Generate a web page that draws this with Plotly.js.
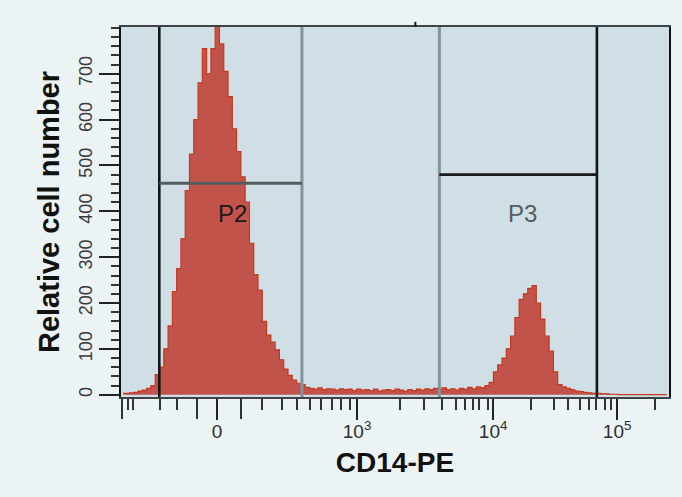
<!DOCTYPE html>
<html>
<head>
<meta charset="utf-8">
<script src="https://cdn.plot.ly/plotly-3.0.1.min.js"></script>
<style>
  html, body { margin: 0; padding: 0; background: #ecf3f5; }
  #chart { width: 682px; height: 497px; }
</style>
</head>
<body>
<div id="chart"></div>
<script>
// ---- Data (display channels 0..1024 of a biexponential CD14-PE axis) ----
const binStart = 0;
const binWidth = 8;
// Relative cell number per display bin
const cellCounts = [
  3, 3, 4, 5, 8, 10, 14, 20, 44, 60,
  100, 150, 225, 275, 340, 445, 525, 600, 680, 755,
  700, 755, 815, 765, 705, 650, 580, 530, 475, 420,
  330, 262, 228, 160, 130, 115, 98, 76, 56, 42,
  32, 25, 22, 16, 14, 12, 15, 11, 13, 12,
  10, 13, 11, 12, 9, 12, 10, 11, 9, 12,
  8, 10, 11, 9, 12, 10, 8, 11, 9, 12,
  10, 13, 11, 14, 12, 15, 11, 13, 10, 14,
  12, 16, 13, 17, 15, 20, 27, 50, 65, 80,
  100, 128, 168, 208, 220, 232, 238, 200, 165, 128,
  95, 50, 22, 17, 14, 11, 8, 7, 5, 4,
  3, 3, 2, 2, 1, 1, 0, 0, 0, 0,
  0, 0, 0, 0, 0, 0, 0, 0
];

// X axis ticks (display channel positions of the logicle scale)
const xLabelTickPos  = [179.4, 441.1, 695.3, 927.0];
const xLabelTickText = ['0', '10<sup>3</sup>', '10<sup>4</sup>', '10<sup>5</sup>'];
const xLongTickPos   = [1.9, 142.0, 224.8];
const xMinorTickPos  = [12.3, 23.0, 72.1, 104.7, 264.1, 300.9, 329.5, 353.8, 373.8, 394.4,
                        411.7, 427.3, 520.7, 566.9, 600.0, 626.1, 642.2, 657.2, 669.7, 685.2,
                        766.3, 808.5, 835.4, 858.4, 873.9, 888.3, 903.9, 915.8, 997.3];
// Y axis ticks
const yTickVals = [0, 100, 200, 300, 400, 500, 600, 700];
const yTickText = ['0', '100', '200', '300', '400', '500', '600', '700'];

// Gates (display channel, count)
const gateP2 = { name: 'P2', x0: 71.6, x1: 338.1, y: 461 };
const gateP3 = { name: 'P3', x0: 594.9, x1: 889.3, y: 480 };
const gateLabelPos = { P2: [207.5, 395], P3: [749.5, 395] };
const topMarkX = 550;

// ---- Build ----
const binCenters = cellCounts.map((_, i) => binStart + (i + 0.5) * binWidth);

const trace = {
  type: 'scatter',
  mode: 'lines',
  x: binCenters,
  y: cellCounts,
  line: { shape: 'hvh', color: '#c4391f', width: 1.2 },
  fill: 'tozeroy',
  fillcolor: '#c2534a',
  hoverinfo: 'x+y'
};
// invisible helper trace so the long-tick overlay axis is drawn
const helper = {
  type: 'scatter', mode: 'markers', x: [binCenters[0]], y: [0],
  xaxis: 'x2', yaxis: 'y', marker: { opacity: 0 }, hoverinfo: 'skip'
};

const blackGate = { color: '#141414', width: 2.6 };
const grayGate = { color: '#85939a', width: 3 };

const shapes = [
  { type: 'line', layer: 'above', xref: 'x', yref: 'paper', x0: gateP2.x0, x1: gateP2.x0, y0: 0, y1: 1, line: blackGate },
  { type: 'line', layer: 'above', xref: 'x', yref: 'paper', x0: gateP2.x1, x1: gateP2.x1, y0: 0, y1: 1, line: grayGate },
  { type: 'line', layer: 'above', xref: 'x', yref: 'paper', x0: gateP3.x0, x1: gateP3.x0, y0: 0, y1: 1, line: grayGate },
  { type: 'line', layer: 'above', xref: 'x', yref: 'paper', x0: gateP3.x1, x1: gateP3.x1, y0: 0, y1: 1, line: blackGate },
  { type: 'line', layer: 'above', xref: 'x', yref: 'y', x0: gateP2.x0, x1: gateP2.x1, y0: gateP2.y, y1: gateP2.y, line: { color: '#535c60', width: 3 } },
  { type: 'line', layer: 'above', xref: 'x', yref: 'y', x0: gateP3.x0, x1: gateP3.x1, y0: gateP3.y, y1: gateP3.y, line: { color: '#1a1a1a', width: 2.6 } },
  { type: 'line', layer: 'above', xref: 'x', yref: 'paper', x0: topMarkX, x1: topMarkX, y0: 1, y1: 1.014, line: { color: '#111', width: 2 } }
];

const annotations = [
  { x: gateLabelPos.P2[0], y: gateLabelPos.P2[1], xref: 'x', yref: 'y', text: gateP2.name, showarrow: false,
    font: { family: 'Liberation Sans, Arial, sans-serif', size: 24, color: '#1a1a1a' } },
  { x: gateLabelPos.P3[0], y: gateLabelPos.P3[1], xref: 'x', yref: 'y', text: gateP3.name, showarrow: false,
    font: { family: 'Liberation Sans, Arial, sans-serif', size: 24, color: '#555b5e' } }
];

const layout = {
  width: 682,
  height: 497,
  margin: { l: 121, r: 13, t: 27, b: 100 },
  paper_bgcolor: '#ecf3f5',
  plot_bgcolor: '#cfdfe5',
  showlegend: false,
  font: { family: 'Liberation Sans, Arial, sans-serif', color: '#333' },
  xaxis: {
    range: [0, 1024],
    showgrid: false,
    zeroline: false,
    showline: true,
    linecolor: '#3d4447',
    linewidth: 2,
    mirror: true,
    ticks: 'outside',
    tickmode: 'array',
    tickvals: xLabelTickPos,
    ticktext: xLabelTickText,
    ticklen: 21,
    tickwidth: 2,
    tickcolor: '#222',
    ticklabelstandoff: -5,
    tickfont: { size: 19, color: '#2e2e2e' },
    minor: {
      tickmode: 'array',
      tickvals: xMinorTickPos,
      ticks: 'outside',
      ticklen: 11,
      tickwidth: 2,
      tickcolor: '#333',
      showgrid: false
    },
    title: { text: 'CD14-PE', font: { size: 28, color: '#111', weight: 'bold' }, standoff: 12 }
  },
  xaxis2: {
    overlaying: 'x',
    anchor: 'y',
    side: 'bottom',
    range: [0, 1024],
    showgrid: false,
    zeroline: false,
    showline: false,
    ticks: 'outside',
    tickmode: 'array',
    tickvals: xLongTickPos,
    ticklen: 21,
    tickwidth: 2,
    tickcolor: '#333',
    showticklabels: false
  },
  yaxis: {
    range: [-5, 802],
    showgrid: false,
    zeroline: false,
    showline: true,
    linecolor: '#111',
    linewidth: 2,
    mirror: true,
    ticks: 'outside',
    tickmode: 'array',
    tickvals: yTickVals,
    ticktext: yTickText,
    ticklen: 20,
    tickwidth: 2,
    tickcolor: '#222',
    tickangle: -90,
    tickfont: { size: 18, color: '#3a3a3a' },
    minor: {
      tickmode: 'linear',
      tick0: 0,
      dtick: 20,
      ticks: 'outside',
      ticklen: 8,
      tickwidth: 2,
      tickcolor: '#333',
      showgrid: false
    },
    title: { text: 'Relative cell number', font: { size: 29, color: '#111', weight: 'bold' }, standoff: 8 }
  },
  shapes: shapes,
  annotations: annotations
};

Plotly.newPlot('chart', [trace, helper], layout, { displayModeBar: false, staticPlot: true });
</script>
</body>
</html>
